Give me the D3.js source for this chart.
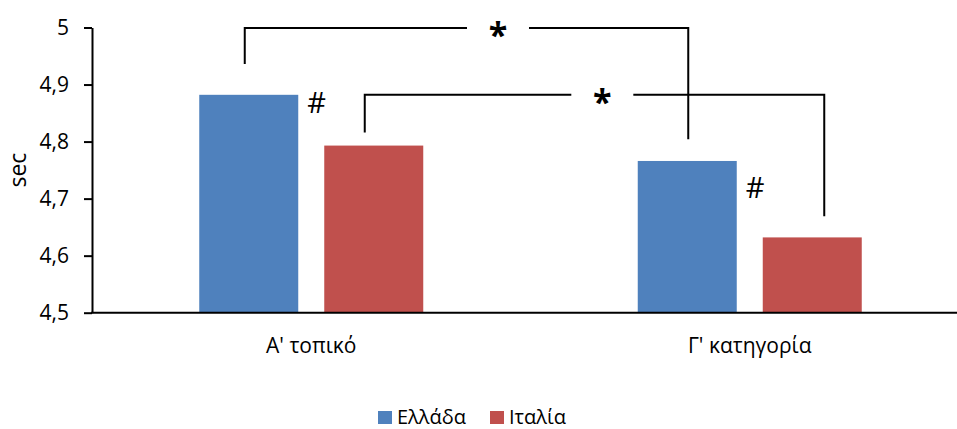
<!DOCTYPE html>
<html>
<head>
<meta charset="utf-8">
<script src="https://cdn.jsdelivr.net/npm/d3@7"></script>
<style>
    body { margin: 0; background: #fff; }
    svg { display: block; font-family: "Open Sans", sans-serif; }
    .axis path, .axis line { stroke: #000; stroke-width: 2; }
    .axis text { font-size: 21px; fill: #000; font-family: "Open Sans", sans-serif; }
</style>
</head>
<body>
<svg class="chart"></svg>
<script>
var categories = ["Α' τοπικό", "Γ'  κατηγορία"];
var series = ["Ελλάδα", "Ιταλία"];
var greece = [4.882, 4.766];
var italy = [4.793, 4.632];
var yTicks = [4.5, 4.6, 4.7, 4.8, 4.9, 5];
var colors = ["#4F81BD", "#C0504D"];

// significance brackets: [category, series] of each end, y levels in data units
var brackets = [
    { a: [0, 0], b: [1, 0], top: 4.999, endA: 4.936, endB: 4.804, dxA: -4, dxB: 1, t: 0.571 },
    { a: [0, 1], b: [1, 1], top: 4.882, endA: 4.816, endB: 4.669, dxA: -9, dxB: 12, t: 0.517 }
];
// "#" marks next to bars
var hashes = [
    { cat: 0, ser: 0, v: 4.866 },
    { cat: 1, ser: 0, v: 4.716 }
];

var width = 957;
var height = 429;
var margin = { top: 27.5, left: 92, bottom: height - 312.7 };

var svg = d3.select(".chart")
    .attr("width", width)
    .attr("height", height);

var x0 = d3.scaleBand()
    .domain(categories)
    .range([margin.left, 969]);

var x1 = d3.scaleBand()
    .domain(series)
    .range([0, x0.bandwidth()])
    .paddingInner(0.208)
    .paddingOuter(0.858);

var y = d3.scaleLinear()
    .domain([4.5, 5])
    .range([height - margin.bottom, margin.top]);

var values = [greece, italy];
var rows = [];
categories.forEach(function(c, i) {
    series.forEach(function(s, j) {
        rows.push({ cat: c, ser: s, j: j, value: values[j][i] });
    });
});

svg.append("g")
    .selectAll("rect")
    .data(rows)
    .enter().append("rect")
    .attr("x", function(d) { return x0(d.cat) + x1(d.ser); })
    .attr("y", function(d) { return y(d.value); })
    .attr("width", x1.bandwidth())
    .attr("height", function(d) { return y(4.5) - y(d.value); })
    .attr("fill", function(d) { return colors[d.j]; });

var locale = d3.formatLocale({ decimal: ",", thousands: ".", grouping: [3], currency: ["", ""] });

svg.append("g")
    .attr("class", "axis")
    .attr("transform", "translate(" + margin.left + ",0)")
    .call(d3.axisLeft(y)
        .tickValues(yTicks)
        .tickFormat(locale.format("~g"))
        .tickSize(8)
        .tickSizeOuter(0)
        .tickPadding(15));

svg.append("line")
    .attr("x1", margin.left - 1)
    .attr("x2", width)
    .attr("y1", y(4.5))
    .attr("y2", y(4.5))
    .attr("stroke", "#000")
    .attr("stroke-width", 2);

svg.append("g")
    .selectAll("text")
    .data(categories)
    .enter().append("text")
    .attr("x", function(d) { return x0(d) + x0.bandwidth() / 2; })
    .attr("y", 353)
    .attr("text-anchor", "middle")
    .style("font-size", "21px")
    .text(function(d) { return d; });

svg.append("text")
    .attr("transform", "translate(26," + (y(4.5) + y(5)) / 2 + ") rotate(-90)")
    .attr("text-anchor", "middle")
    .style("font-size", "23px")
    .text("sec");

function barCenter(p) {
    return x0(categories[p[0]]) + x1(series[p[1]]) + x1.bandwidth() / 2;
}

var gap = 31;
brackets.forEach(function(b) {
    var xa = barCenter(b.a) + b.dxA;
    var xb = barCenter(b.b) + b.dxB;
    var yt = y(b.top);
    var xm = xa + (xb - xa) * b.t;
    var g = svg.append("g")
        .attr("fill", "none")
        .attr("stroke", "#000")
        .attr("stroke-width", 2);
    g.append("path")
        .attr("d", "M" + xa + "," + y(b.endA) + "V" + yt + "H" + (xm - gap));
    g.append("path")
        .attr("d", "M" + (xm + gap) + "," + yt + "H" + xb + "V" + y(b.endB));
    svg.append("text")
        .attr("x", xm)
        .attr("y", yt + 19)
        .attr("text-anchor", "middle")
        .style("font-size", "34px")
        .style("font-weight", "bold")
        .text("*");
});

svg.append("g")
    .selectAll("text")
    .data(hashes)
    .enter().append("text")
    .attr("x", function(d) { return x0(categories[d.cat]) + x1(series[d.ser]) + x1.bandwidth() + 9; })
    .attr("y", function(d) { return y(d.v) + 9; })
    .style("font-size", "29px")
    .text("#");

var legend = svg.append("g")
    .attr("transform", "translate(378,409)");

var legendX = [0, 112];
var item = legend.selectAll("g")
    .data(series)
    .enter().append("g")
    .attr("transform", function(d, i) { return "translate(" + legendX[i] + ",0)"; });

item.append("rect")
    .attr("y", 2)
    .attr("width", 14)
    .attr("height", 13)
    .attr("fill", function(d, i) { return colors[i]; });

item.append("text")
    .attr("x", 19)
    .attr("y", 15)
    .style("font-size", "20px")
    .text(function(d) { return d; });
</script>
</body>
</html>
